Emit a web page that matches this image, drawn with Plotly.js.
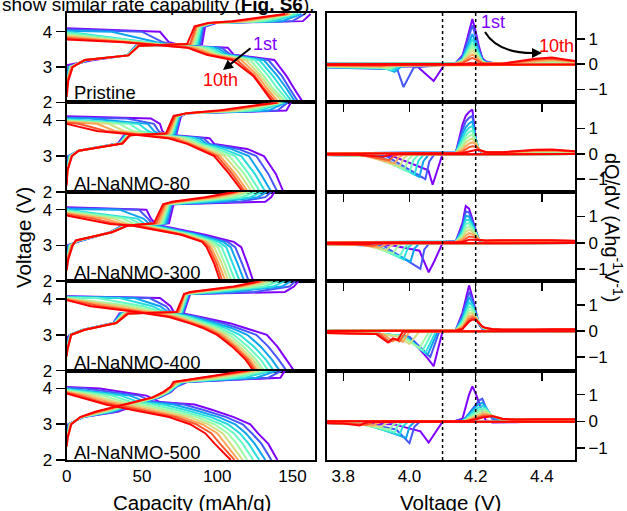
<!DOCTYPE html>
<html><head><meta charset="utf-8">
<script src="https://cdn.plot.ly/plotly-3.0.1.min.js"></script>
<style>html,body{margin:0;padding:0;background:#fff}#chart{width:627px;height:511px}</style>
</head><body><div id="chart"></div>
<script>
// ---------------- DATA ----------------
const cycleLabels = ['1st','2nd','3rd','4th','5th','6th','7th','8th','9th','10th'];
const cycleColors = ['#8000ff','#4757fb','#0ea4f0','#2adddd','#63fbc3','#9cfba4','#d4dd80','#ffa457','#ff572c','#ff0000'];
const panelNames = ['Pristine','Al-NaNMO-80','Al-NaNMO-300','Al-NaNMO-400','Al-NaNMO-500'];
const capTicks = [0, 50, 100, 150];
const voltTicks = [2, 3, 4];
const dvTicks = [3.8, 4.0, 4.2, 4.4];
const dvTickText = ['3.8', '4.0', '4.2', '4.4'];
const dqTicks = [-1, 0, 1];
const refVoltages = [4.1, 4.2];

// --- Voltage profiles: voltage grid, start voltage per cycle, capacity (mAh/g) per cycle at each grid voltage
const chgV_pristine = [2.6, 3.0, 3.2, 3.33, 3.6, 3.65, 4.15, 4.25, 4.3, 4.5];
const chgStart_pristine = [3.05, 2.75, 2.6, 2.5, 2.45, 2.4, 2.35, 2.3, 2.25, 2.15];
const chgCap_pristine = [
 [null, null, 18, 40, 46, 90, 92, 100, 157, 162],
 [null, 1, 15, 40, 46, 89, 91, 99, 150, 158],
 [null, 1.5, 14, 40, 46.5, 88, 90, 98, 143, 156],
 [0.5, 2, 13, 40, 47, 87, 89.5, 98, 137, 154],
 [0.5, 2.5, 13, 40, 47, 86, 89, 97, 131, 152],
 [0.5, 2.5, 12.5, 40.5, 47.5, 85, 88, 97, 126, 150],
 [0.5, 3, 12.5, 40.5, 47.5, 84, 87, 96, 121, 149],
 [0.5, 3, 12, 41, 48, 83, 86.5, 96, 117, 148],
 [0.5, 3.5, 12, 41, 48, 82, 86, 95, 113, 147],
 [1, 4, 12, 41, 48, 80, 85, 94, 110, 145]];
const disV_pristine = [4.0, 3.7, 3.6, 3.55, 3.35, 3.2, 2.75, 2.4, 2.0];
const disStart_pristine = [4.1, 4.07, 4.03, 4.0, 3.97, 3.93, 3.9, 3.86, 3.82, 3.78];
const disCap_pristine = [
 [62, 68, 78, 107, 111, 138, 146, 151, 157],
 [50, 64, 76, 103, 109, 134, 143, 148, 154],
 [30, 60, 74, 100, 107, 131, 140, 146, 152],
 [null, 56, 72, 97, 105, 128, 137, 143, 150],
 [null, 52, 71, 94, 103, 125, 134, 140, 148],
 [null, 48, 70, 91, 101, 122, 131, 137, 146],
 [null, 45, 69, 88, 99, 119, 129, 135, 144],
 [null, 42, 68, 85, 97, 116, 127, 133, 141],
 [null, 40, 66, 82, 95, 113, 125, 131, 139],
 [null, 38, 65, 80, 93, 110, 124, 130, 137]];

const chgV_al80 = [2.6, 3.0, 3.15, 3.35, 3.58, 3.63, 4.12, 4.2, 4.27, 4.5];
const chgStart_al80 = [2.97, 2.75, 2.6, 2.5, 2.45, 2.4, 2.35, 2.3, 2.25, 2.17];
const chgCap_al80 = [
 [null, 1, 8, 34, 38, 73, 76, 80, 146, 149],
 [null, 1, 8, 34.5, 38.5, 72.5, 75.5, 80, 140, 147],
 [null, 1.5, 8, 35, 39, 72, 75, 80, 134, 146],
 [0.5, 2, 8, 35, 39.5, 71, 74.5, 80, 128, 145],
 [0.5, 2, 8, 35.5, 40, 70, 74, 80, 122, 144],
 [0.5, 2.5, 8, 36, 40.5, 69.5, 73.5, 80, 117, 143],
 [0.5, 3, 8, 36, 41, 69, 73, 80, 112, 142],
 [0.5, 3, 8, 36.5, 41.5, 68, 72.5, 80, 108, 141],
 [0.5, 3.5, 8, 37, 42, 67, 72, 80, 104, 140.5],
 [0.5, 3.5, 8, 37, 42, 66, 71, 80, 100, 140]];
const disV_al80 = [4.05, 3.9, 3.7, 3.6, 3.5, 3.34, 3.2, 3.0, 2.5, 2.0];
const disStart_al80 = [4.11, 4.08, 4.06, 4.03, 4.01, 3.99, 3.97, 3.95, 3.93, 3.9];
const disCap_al80 = [
 [56, 62, 63.5, 66, 95, 98, 120, 131, 139, 144],
 [40, 58, 61, 64, 91, 95, 114, 126, 134, 140],
 [15, 54, 58, 62, 88, 93, 109, 121, 129, 136],
 [null, 48, 54, 60, 85, 91, 104, 116, 125, 132],
 [null, 42, 49, 58, 82, 89, 100, 112, 121, 128.5],
 [null, 35, 44, 56, 79, 87, 97, 108, 118, 125.5],
 [null, 28, 38, 53, 76, 85, 94, 105, 115, 123],
 [null, 20, 32, 50, 73, 83, 91, 102, 112, 120.5],
 [null, 8, 26, 47, 70, 81.5, 89, 100, 110, 118.5],
 [null, null, 20, 44, 67, 80, 87, 98, 108, 117]];

const chgV_al300 = [2.6, 3.0, 3.14, 3.37, 3.56, 3.62, 4.15, 4.22, 4.35, 4.5];
const chgStart_al300 = [3.0, 2.8, 2.7, 2.6, 2.55, 2.5, 2.45, 2.4, 2.35, 2.3];
const chgCap_al300 = [
 [null, null, 10, 29, 37, 68, 71, 132, 136, 138],
 [null, 1, 9.5, 29, 37.5, 67, 70, 115, 132, 136],
 [null, 1.5, 9, 29, 38, 66, 69.5, 102, 127, 133],
 [null, 2, 8.5, 29.5, 38.5, 65, 69, 92, 122, 130],
 [0.5, 2, 8, 29.5, 39, 64, 68, 85, 116, 126],
 [0.5, 2.5, 7.5, 29.5, 39.5, 63, 67.5, 80, 110, 122],
 [0.5, 3, 7, 30, 40, 62, 67, 77, 104, 119],
 [0.5, 3, 7, 30, 40.5, 61, 66, 74, 99, 116],
 [0.5, 3.5, 6.5, 30, 41, 59.5, 65, 72, 95, 114],
 [1, 4, 6, 30, 41, 58, 64, 70, 92, 112]];
const disV_al300 = [4.0, 3.75, 3.6, 3.55, 3.42, 3.3, 3.1, 2.95, 2.5, 2.0];
const disStart_al300 = [4.07, 4.05, 4.02, 4.0, 3.97, 3.95, 3.92, 3.9, 3.87, 3.84];
const disCap_al300 = [
 [53, 56, 59, 63, 78, 92, 111, 116, 120, 124],
 [48, 54, 57, 61, 76, 89, 107, 112, 116.5, 121],
 [35, 51, 55, 59, 74, 87, 104, 109, 113.5, 118],
 [null, 47, 52, 57, 72, 85, 101, 106, 110.5, 115],
 [null, 42, 49, 55, 70, 83, 98, 103, 107.5, 112],
 [null, 37, 45, 53, 68, 81, 96, 100.5, 105, 109.5],
 [null, 31, 41, 51, 66.5, 79.5, 94, 98, 103, 107.5],
 [null, 25, 37, 49, 65, 78, 92.5, 96, 101, 105.5],
 [null, 18, 33, 46.5, 63.5, 77, 91, 94.5, 99.5, 103.5],
 [null, 11, 29, 44, 62, 76, 90, 93, 98, 102]];

const chgV_al400 = [2.6, 3.0, 3.14, 3.33, 3.6, 3.64, 4.14, 4.2, 4.35, 4.5];
const chgStart_al400 = [2.9, 2.8, 2.7, 2.65, 2.6, 2.55, 2.5, 2.45, 2.42, 2.4];
const chgCap_al400 = [
 [null, 2, 11, 31, 35, 78, 82, 145, 151, 154],
 [null, 2, 11, 31, 35.5, 77.5, 81.5, 125, 148, 152],
 [null, 2.5, 11, 31.5, 36, 77, 81, 110, 143, 149],
 [null, 2.5, 11.5, 31.5, 37, 76.5, 80.5, 100, 137, 145],
 [null, 2.5, 11.5, 32, 37.5, 76, 80, 94, 131, 141],
 [0.5, 2.5, 11.5, 32, 38, 75.5, 79.5, 90, 125, 137],
 [0.5, 3, 12, 32.5, 39, 75, 79, 87, 120, 134],
 [0.5, 3, 12, 32.5, 39.5, 74.5, 78.5, 85, 116, 131],
 [0.5, 3, 12, 33, 40, 74, 78, 83.5, 113, 129.5],
 [0.5, 3, 12, 33, 41, 73, 78, 82, 111, 128]];
const disV_al400 = [4.03, 3.8, 3.65, 3.5, 3.32, 3.2, 3.0, 2.67, 2.3, 2.0];
const disStart_al400 = [4.08, 4.07, 4.06, 4.05, 4.04, 4.03, 4.01, 4.0, 3.98, 3.97];
const disCap_al400 = [
 [62, 69, 71, 89, 109, 118, 133, 140, 146, 151],
 [55, 66, 69, 87, 104, 113, 126, 134, 141, 146],
 [45, 62, 67, 84.5, 100, 109, 120, 129, 136.5, 141.5],
 [35, 57, 64.5, 82, 96, 105, 115, 124.5, 132.5, 137.5],
 [20, 51, 62, 80, 93, 101.5, 111, 120.5, 129, 134],
 [null, 45, 59, 77.5, 90, 98.5, 108, 117.5, 126, 131],
 [null, 38, 56, 75, 87.5, 96, 105.5, 115, 124, 129],
 [null, 31, 52, 73, 85.5, 94, 103.5, 113, 122, 127],
 [null, 23, 48, 70.5, 83.5, 92, 101.5, 111.5, 120.5, 125.5],
 [null, 16, 44, 68, 82, 90, 100, 110, 119, 124]];

const chgV_al500 = [2.6, 3.0, 3.2, 3.35, 3.58, 3.75, 3.9, 4.05, 4.18, 4.3, 4.5];
const chgStart_al500 = [2.8, 2.7, 2.65, 2.6, 2.55, 2.5, 2.45, 2.42, 2.4, 2.37];
const chgCap_al500 = [
 [null, 1, 11, 34, 49, 62, 69, 73, 80, 142, 145],
 [null, 1.5, 11, 32, 48, 61.5, 68.5, 73, 79, 134, 143],
 [null, 1.5, 10.5, 30, 47, 61, 68, 72.5, 78, 126, 140],
 [null, 2, 10.5, 28.5, 46, 60.5, 67.5, 72, 77, 118, 137],
 [0.5, 2, 10, 27, 45, 60, 67, 71.5, 76, 111, 134],
 [0.5, 2, 10, 25, 44, 59.5, 66.5, 71, 75, 105, 131],
 [0.5, 2.5, 9.5, 23.5, 43, 59, 66, 70.5, 74, 100, 128],
 [0.5, 2.5, 9.5, 22, 42, 58, 65, 70, 73, 95, 125],
 [0.5, 3, 9, 20.5, 41, 57.5, 64.5, 69.5, 72, 92, 122],
 [0.5, 3, 9, 19, 40, 57, 64, 69, 71, 89, 120]];
const disV_al500 = [4.0, 3.8, 3.62, 3.55, 3.4, 3.2, 3.0, 2.75, 2.45, 2.0];
const disStart_al500 = [4.04, 4.02, 4.0, 3.98, 3.96, 3.94, 3.92, 3.9, 3.88, 3.86];
const disCap_al500 = [
 [22, 53, 62, 85, 97, 111, 122, 127, 134, 140],
 [12, 48, 58, 78, 91, 106, 117, 123, 129.5, 136],
 [null, 42, 53, 71, 85, 101, 112, 119, 125, 132],
 [null, 36, 48, 64, 79, 96, 107, 115, 121, 128],
 [null, 30, 43, 57, 73, 91, 102.5, 111, 117, 124],
 [null, 24, 38, 50, 67, 86.5, 98, 107, 113, 120],
 [null, 18, 33, 43, 61, 82, 94, 103.5, 109, 117],
 [null, 13, 28, 37, 55, 77, 90, 100, 105.5, 114],
 [null, 9, 23, 31, 49, 72.5, 86, 96, 102, 111.5],
 [null, 5, 19, 26, 44, 68, 82, 92, 98.5, 109]];

// --- dQ/dV: charge branch on a shared voltage grid; discharge branch as [V, dQ/dV] pairs
const dqV = [3.75, 4.10, 4.14, 4.16, 4.17, 4.18, 4.19, 4.20, 4.21, 4.22, 4.23, 4.25, 4.28, 4.32, 4.38, 4.43, 4.50];
const dqChg_pristine = [
 [.02,.02,.05,.35,.8,1.35,1.8,1.3,.7,.25,.12,.05,.03,.03,.03,.03,.03],
 [.02,.02,.05,.3,.69,1.16,1.55,1.12,.6,.22,.1,.05,.03,.03,.03,.03,.03],
 [.02,.02,.04,.23,.53,.9,1.2,.87,.47,.17,.08,.05,.03,.03,.04,.04,.03],
 [.02,.02,.04,.19,.44,.75,1.0,.72,.39,.14,.07,.05,.03,.04,.05,.05,.04],
 [.02,.02,.03,.17,.38,.64,.85,.61,.33,.12,.06,.04,.03,.04,.06,.07,.05],
 [.01,.01,.03,.14,.31,.53,.7,.51,.27,.1,.05,.04,.03,.05,.08,.09,.06],
 [.01,.01,.03,.11,.24,.41,.55,.4,.21,.08,.04,.03,.03,.06,.11,.13,.08],
 [.01,.01,.02,.08,.18,.3,.4,.29,.16,.06,.03,.03,.03,.07,.14,.17,.1],
 [.01,.01,.02,.05,.11,.19,.25,.18,.1,.04,.03,.02,.03,.08,.18,.22,.12],
 [0,0,.01,.01,.02,.04,.05,.04,.03,.02,.02,.02,.02,.1,.22,.27,.13]];
const dqDis_pristine = [
 [[4.5,-.02],[4.105,-.03],[4.073,-.67],[4.023,-.08],[3.9,-.1],[3.75,-.1]],
 [[4.5,-.02],[4.1,-.03],[4.013,-.13],[3.982,-.91],[3.963,-.2],[3.85,-.15],[3.75,-.13]],
 [[4.5,-.02],[4.03,-.03],[3.975,-.1],[3.955,-.3],[3.93,-.17],[3.75,-.12]],
 [[4.5,-.02],[4.02,-.03],[3.97,-.09],[3.95,-.25],[3.92,-.16],[3.75,-.11]],
 [[4.5,-.02],[4.01,-.03],[3.96,-.08],[3.945,-.2],[3.91,-.14],[3.75,-.1]],
 [[4.5,-.02],[4.0,-.03],[3.955,-.07],[3.94,-.16],[3.9,-.12],[3.75,-.09]],
 [[4.5,-.02],[3.99,-.03],[3.95,-.06],[3.93,-.12],[3.9,-.1],[3.75,-.08]],
 [[4.5,-.02],[3.98,-.03],[3.94,-.05],[3.92,-.09],[3.88,-.08],[3.75,-.06]],
 [[4.5,-.01],[3.97,-.02],[3.93,-.04],[3.91,-.06],[3.87,-.05],[3.75,-.04]],
 [[4.5,-.01],[3.9,-.01],[3.75,-.02]]];

const dqChg_al80 = [
 [.02,.03,.05,1.15,1.5,1.65,1.75,.6,.12,.06,.04,.03,.03,.03,.03,.03,.03],
 [.02,.03,.05,.95,1.27,1.42,1.5,.6,.13,.06,.04,.03,.03,.03,.03,.03,.03],
 [.02,.03,.05,.78,1.05,1.2,1.28,.6,.14,.07,.05,.03,.03,.03,.04,.04,.03],
 [.02,.03,.05,.62,.88,1.03,1.1,.58,.15,.07,.05,.04,.03,.04,.05,.05,.04],
 [.02,.02,.04,.48,.72,.86,.92,.55,.16,.08,.05,.04,.04,.05,.06,.07,.05],
 [.02,.02,.04,.36,.58,.7,.76,.5,.17,.08,.06,.05,.04,.06,.08,.09,.06],
 [.01,.02,.03,.25,.44,.55,.6,.44,.18,.09,.06,.05,.05,.07,.1,.11,.07],
 [.01,.01,.03,.15,.3,.4,.45,.38,.18,.1,.07,.05,.05,.08,.12,.13,.08],
 [.01,.01,.02,.08,.17,.26,.3,.28,.18,.1,.07,.06,.06,.09,.14,.15,.09],
 [0,.01,.02,.03,.06,.1,.13,.15,.15,.1,.07,.06,.06,.1,.16,.17,.1]];
const dqDis_al80 = [
 [[4.5,-.01],[4.1,-.01],[4.07,-1.22],[4.057,-.65],[3.95,-.1],[3.75,-.05]],
 [[4.5,-.01],[4.075,-.02],[4.06,-.3],[4.048,-1.0],[3.93,-.09],[3.75,-.05]],
 [[4.5,-.01],[4.058,-.02],[4.042,-.3],[4.03,-.92],[3.91,-.09],[3.75,-.05]],
 [[4.5,-.01],[4.043,-.02],[4.027,-.28],[4.015,-.82],[3.9,-.08],[3.75,-.05]],
 [[4.5,-.01],[4.028,-.02],[4.012,-.25],[4.0,-.72],[3.89,-.08],[3.75,-.05]],
 [[4.5,-.01],[4.013,-.02],[3.997,-.22],[3.985,-.6],[3.88,-.07],[3.75,-.05]],
 [[4.5,-.01],[3.998,-.02],[3.982,-.18],[3.97,-.5],[3.87,-.07],[3.75,-.05]],
 [[4.5,-.01],[3.983,-.02],[3.967,-.15],[3.955,-.38],[3.86,-.06],[3.75,-.05]],
 [[4.5,-.01],[3.968,-.02],[3.952,-.1],[3.94,-.25],[3.85,-.05],[3.75,-.04]],
 [[4.5,-.01],[3.95,-.02],[3.935,-.06],[3.92,-.12],[3.84,-.04],[3.75,-.03]]];

const dqChg_al300 = [
 [.02,.03,.06,.75,1.4,1.3,.9,.5,.1,.06,.05,.03,.02,.02,.02,.02,.02],
 [.02,.03,.06,.62,1.2,1.15,.82,.47,.1,.06,.05,.03,.03,.03,.03,.03,.02],
 [.02,.03,.05,.52,1.03,1.0,.74,.44,.11,.06,.05,.04,.03,.03,.03,.03,.03],
 [.02,.03,.05,.42,.86,.88,.66,.41,.12,.07,.05,.04,.04,.04,.04,.04,.03],
 [.02,.02,.04,.34,.7,.76,.58,.38,.12,.07,.06,.05,.05,.05,.05,.05,.04],
 [.02,.02,.04,.26,.55,.63,.5,.34,.13,.08,.06,.06,.06,.06,.06,.06,.05],
 [.01,.02,.03,.19,.41,.5,.42,.3,.13,.08,.07,.07,.07,.07,.07,.07,.05],
 [.01,.01,.03,.13,.28,.37,.33,.25,.13,.09,.08,.08,.08,.08,.08,.08,.06],
 [.01,.01,.02,.07,.16,.24,.23,.19,.12,.09,.08,.09,.09,.09,.1,.09,.07],
 [0,.01,.02,.03,.07,.12,.12,.12,.11,.1,.09,.1,.1,.1,.11,.1,.08]];
const dqDis_al300 = [
 [[4.5,-.01],[4.1,-.01],[4.075,-.7],[4.058,-1.12],[4.03,-.3],[3.95,-.1],[3.75,-.06]],
 [[4.5,-.01],[4.06,-.02],[4.045,-.25],[4.033,-.99],[3.92,-.1],[3.75,-.06]],
 [[4.5,-.01],[4.03,-.02],[4.015,-.22],[4.003,-.72],[3.9,-.1],[3.75,-.06]],
 [[4.5,-.01],[4.01,-.02],[3.995,-.2],[3.982,-.63],[3.89,-.09],[3.75,-.06]],
 [[4.5,-.01],[4.0,-.02],[3.985,-.18],[3.97,-.53],[3.88,-.09],[3.75,-.06]],
 [[4.5,-.01],[3.98,-.02],[3.965,-.14],[3.95,-.4],[3.87,-.08],[3.75,-.06]],
 [[4.5,-.01],[3.96,-.02],[3.945,-.1],[3.93,-.28],[3.86,-.08],[3.75,-.05]],
 [[4.5,-.01],[3.94,-.02],[3.925,-.08],[3.91,-.18],[3.85,-.07],[3.75,-.05]],
 [[4.5,-.01],[3.92,-.02],[3.905,-.06],[3.89,-.12],[3.84,-.06],[3.75,-.05]],
 [[4.5,-.01],[3.9,-.02],[3.87,-.05],[3.75,-.04]]];

const dqChg_al400 = [
 [.02,.02,.04,.7,1.2,1.75,1.3,.75,.25,.08,.05,.02,.01,.01,.01,.01,.01],
 [.02,.02,.04,.6,1.02,1.5,1.2,.72,.27,.1,.06,.03,.02,.02,.02,.02,.02],
 [.02,.02,.04,.5,.88,1.3,1.08,.68,.28,.11,.07,.03,.02,.02,.03,.03,.03],
 [.02,.02,.04,.42,.74,1.1,.98,.64,.29,.12,.08,.04,.03,.03,.03,.04,.04],
 [.02,.02,.03,.34,.62,.94,.87,.6,.3,.13,.08,.04,.03,.03,.04,.04,.04],
 [.01,.02,.03,.27,.52,.8,.78,.57,.31,.14,.09,.05,.04,.04,.04,.05,.05],
 [.01,.02,.03,.21,.42,.67,.69,.53,.31,.15,.1,.05,.04,.04,.05,.05,.05],
 [.01,.01,.03,.16,.33,.55,.6,.5,.31,.16,.11,.06,.05,.04,.05,.06,.06],
 [.01,.01,.02,.11,.26,.45,.52,.47,.31,.17,.11,.07,.05,.05,.06,.06,.06],
 [0,.01,.02,.07,.2,.36,.44,.42,.3,.17,.12,.08,.06,.05,.06,.07,.07]];
const dqDis_al400 = [
 [[4.5,-.01],[4.1,-.01],[4.073,-1.35],[4.055,-1.05],[4.0,-.25],[3.9,-.1],[3.75,-.07]],
 [[4.5,-.01],[4.09,-.02],[4.063,-1.0],[4.0,-.22],[3.9,-.1],[3.75,-.07]],
 [[4.5,-.01],[4.085,-.02],[4.055,-.92],[3.99,-.2],[3.9,-.1],[3.75,-.07]],
 [[4.5,-.01],[4.08,-.02],[4.048,-.85],[3.985,-.2],[3.9,-.1],[3.75,-.07]],
 [[4.5,-.01],[4.07,-.02],[4.04,-.75],[3.98,-.2],[3.9,-.1],[3.75,-.07]],
 [[4.5,-.01],[4.06,-.02],[4.03,-.65],[3.975,-.2],[3.9,-.1],[3.75,-.07]],
 [[4.5,-.01],[4.03,-.02],[4.0,-.5],[3.96,-.2],[3.9,-.1],[3.75,-.07]],
 [[4.5,-.01],[4.0,-.02],[3.98,-.42],[3.965,-.3],[3.95,-.4],[3.92,-.12],[3.75,-.08]],
 [[4.5,-.01],[3.99,-.02],[3.97,-.4],[3.955,-.3],[3.94,-.42],[3.91,-.12],[3.75,-.08]],
 [[4.5,-.01],[3.98,-.02],[3.965,-.35],[3.95,-.28],[3.935,-.44],[3.9,-.12],[3.75,-.08]]];

const dqChg_al500 = [
 [.02,.02,.03,.1,.55,1.0,1.31,1.05,.7,.4,.05,-.04,-.04,-.03,0,.02,.03],
 [.02,.02,.03,.05,.15,.3,.45,.62,.78,.85,.55,.1,.04,.03,.03,.03,.03],
 [.02,.02,.03,.03,.12,.28,.42,.55,.65,.7,.55,.15,.05,.04,.04,.04,.04],
 [.02,.02,.03,.02,.09,.22,.34,.45,.53,.58,.5,.18,.06,.04,.05,.05,.05],
 [.02,.02,.03,.02,.07,.17,.27,.37,.44,.49,.46,.2,.07,.05,.05,.06,.05],
 [.01,.01,.02,.01,.05,.13,.21,.3,.36,.41,.41,.22,.08,.05,.06,.06,.06],
 [.01,.01,.02,.01,.04,.1,.16,.23,.29,.33,.35,.22,.09,.06,.06,.07,.06],
 [.01,.01,.02,.01,.03,.07,.12,.17,.22,.26,.28,.21,.1,.06,.07,.07,.07],
 [.01,.01,.02,0,.02,.05,.08,.12,.16,.2,.22,.2,.1,.07,.07,.08,.07],
 [.01,.01,.02,0,.01,.03,.05,.08,.11,.15,.17,.19,.1,.07,.08,.08,.08]];
const dqDis_al500 = [
 [[4.5,-.01],[4.1,-.01],[4.058,-.79],[4.033,-.37],[3.95,-.1],[3.75,-.06]],
 [[4.5,-.01],[4.03,-.02],[4.015,-.2],[4.0,-.81],[3.96,-.3],[3.88,-.1],[3.75,-.06]],
 [[4.5,-.01],[4.015,-.02],[4.0,-.2],[3.99,-.62],[3.87,-.1],[3.75,-.06]],
 [[4.5,-.01],[3.995,-.02],[3.98,-.18],[3.97,-.5],[3.86,-.1],[3.75,-.06]],
 [[4.5,-.01],[3.98,-.02],[3.965,-.15],[3.955,-.4],[3.85,-.09],[3.75,-.06]],
 [[4.5,-.01],[3.965,-.02],[3.95,-.12],[3.94,-.3],[3.84,-.09],[3.75,-.06]],
 [[4.5,-.01],[3.94,-.02],[3.925,-.1],[3.915,-.2],[3.83,-.08],[3.75,-.06]],
 [[4.5,-.01],[3.915,-.02],[3.9,-.08],[3.89,-.15],[3.82,-.08],[3.75,-.06]],
 [[4.5,-.01],[3.895,-.02],[3.88,-.07],[3.87,-.12],[3.8,-.07],[3.75,-.06]],
 [[4.5,-.01],[3.875,-.02],[3.86,-.08],[3.85,-.15],[3.8,-.08],[3.75,-.07]]];

// ---------------- BUILD ----------------
const panels = [
 {cV:chgV_pristine,cS:chgStart_pristine,cC:chgCap_pristine,dV:disV_pristine,dS:disStart_pristine,dC:disCap_pristine,qc:dqChg_pristine,qd:dqDis_pristine},
 {cV:chgV_al80,cS:chgStart_al80,cC:chgCap_al80,dV:disV_al80,dS:disStart_al80,dC:disCap_al80,qc:dqChg_al80,qd:dqDis_al80},
 {cV:chgV_al300,cS:chgStart_al300,cC:chgCap_al300,dV:disV_al300,dS:disStart_al300,dC:disCap_al300,qc:dqChg_al300,qd:dqDis_al300},
 {cV:chgV_al400,cS:chgStart_al400,cC:chgCap_al400,dV:disV_al400,dS:disStart_al400,dC:disCap_al400,qc:dqChg_al400,qd:dqDis_al400},
 {cV:chgV_al500,cS:chgStart_al500,cC:chgCap_al500,dV:disV_al500,dS:disStart_al500,dC:disCap_al500,qc:dqChg_al500,qd:dqDis_al500}];

function profile(grid, start, caps){
  const x=[0], y=[start];
  grid.forEach((v,i)=>{ if(caps[i]!==null){ x.push(caps[i]); y.push(v);} });
  return {x,y};
}
const W=627, H=511;
const px=v=>v/W, py=v=>1-v/H;
const LW=2;
const traces=[];
panels.forEach((p,k)=>{
  const sa = k===0?'':String(k+1), sb=String(k+6);
  for(let c=0;c<10;c++){
    const col=cycleColors[c];
    const d=profile(p.dV,p.dS[c],p.dC[c]);
    traces.push({type:'scatter',mode:'lines',x:d.x,y:d.y,xaxis:'x'+sa,yaxis:'y'+sa,line:{color:col,width:LW},name:cycleLabels[c],hoverinfo:'skip'});
    const ch=profile(p.cV,p.cS[c],p.cC[c]);
    traces.push({type:'scatter',mode:'lines',x:ch.x,y:ch.y,xaxis:'x'+sa,yaxis:'y'+sa,line:{color:col,width:LW},name:cycleLabels[c],hoverinfo:'skip'});
  }
  for(let c=0;c<10;c++){
    const col=cycleColors[c];
    traces.push({type:'scatter',mode:'lines',x:p.qd[c].map(q=>q[0]),y:p.qd[c].map(q=>q[1]),xaxis:'x'+sb,yaxis:'y'+sb,line:{color:col,width:LW},name:cycleLabels[c],hoverinfo:'skip'});
    traces.push({type:'scatter',mode:'lines',x:dqV,y:p.qc[c],xaxis:'x'+sb,yaxis:'y'+sb,line:{color:col,width:LW},name:cycleLabels[c],hoverinfo:'skip'});
  }
});

const FONT='"Liberation Sans", Arial, sans-serif';
const rowTop=[13,102.4,191.8,281.2,370.6], rowH=89.4;
const leftDom=[px(66.7),px(315)], rightDom=[px(326.7),px(575)];
const leftYRange=[[2,4.53],[2,4.5],[2,4.5],[2,4.5],[2,4.5]];
const rightYRange=[[-1.52,2.04],[-1.5,2.03],[-1.46,1.94],[-1.52,1.91],[-1.44,1.9]];
const base={showline:true,mirror:true,linecolor:'#000',linewidth:2,showgrid:false,zeroline:false,ticks:'',tickcolor:'#000',tickwidth:1.5,tickfont:{size:17,color:'#000',family:FONT},fixedrange:true};
const layout={width:W,height:H,margin:{l:0,r:0,t:0,b:0},paper_bgcolor:'#fff',plot_bgcolor:'rgba(0,0,0,0)',showlegend:false,font:{family:FONT,color:'#000'}};
for(let k=0;k<5;k++){
  const dom=[py(rowTop[k]+rowH),py(rowTop[k])];
  const sa=k===0?'':String(k+1), sb=String(k+6);
  layout['xaxis'+sa]=Object.assign({},base,{domain:leftDom,anchor:'y'+sa,range:[0,165],tickvals:capTicks,showticklabels:k===4});
  layout['yaxis'+sa]=Object.assign({},base,{domain:dom,anchor:'x'+sa,range:leftYRange[k],tickvals:voltTicks,ticks:'outside',ticklen:9});
  layout['xaxis'+sb]=Object.assign({},base,{domain:rightDom,anchor:'y'+sb,range:[3.75,4.5],tickvals:dvTicks,ticktext:dvTickText,ticks:k<4?'outside':'',ticklen:8,showticklabels:k===4});
  layout['yaxis'+sb]=Object.assign({},base,{domain:dom,anchor:'x'+sb,side:'right',range:rightYRange[k],tickvals:dqTicks,ticks:'outside',ticklen:8});
}
layout.shapes = refVoltages.map(v=>({type:'line',xref:'x6',yref:'paper',x0:v,x1:v,y0:py(460),y1:py(13),line:{color:'#000',width:1.5,dash:'dot'}}));
layout.shapes.push({type:'path',xref:'paper',yref:'paper',path:`M ${px(485)},${py(32)} Q ${px(498)},${py(54)} ${px(536)},${py(53)}`,line:{color:'#000',width:2}});

function note(text,xPx,yPx,opts){
  return Object.assign({text:text,xref:'paper',yref:'paper',x:px(xPx),y:py(yPx),xanchor:'center',yanchor:'middle',showarrow:false},opts||{});
}
const labelY=[93,183,272,362,452];
const ann=[];
panelNames.forEach((n,k)=>ann.push(note(n,72,labelY[k],{xanchor:'left',font:{size:18.5,family:FONT,color:'#000'}})));
ann.push(note(cycleLabels[0],265,44,{font:{size:18,family:FONT,color:cycleColors[0]}}));
ann.push(note(cycleLabels[9],220,80,{font:{size:18,family:FONT,color:cycleColors[9]}}));
ann.push(note('',223,70,{ax:29,ay:-23,showarrow:true,arrowhead:2,arrowsize:1,arrowwidth:2,arrowcolor:'#000'}));
ann.push(note(cycleLabels[0],493,22,{font:{size:18,family:FONT,color:cycleColors[0]}}));
ann.push(note(cycleLabels[9],556,46,{font:{size:18,family:FONT,color:cycleColors[9]}}));
ann.push(note('',542,53,{ax:-7,ay:0,showarrow:true,arrowhead:2,arrowsize:1,arrowwidth:2,arrowcolor:'#000'}));
ann.push(note('Voltage (V)',23,238,{textangle:-90,font:{size:20.5,family:FONT,color:'#000'}}));
ann.push(note('Capacity (mAh/g)',192,502,{font:{size:20.5,family:FONT,color:'#000'}}));
ann.push(note('Voltage (V)',450,502,{font:{size:20.5,family:FONT,color:'#000'}}));
ann.push(note('dQ/dV (Ahg<sup>-1</sup>V<sup>-1</sup>)',614,227,{textangle:90,font:{size:20,family:FONT,color:'#000'}}));
ann.push(note('show similar rate capability (<b>Fig. S6</b>).',317,4,{xanchor:'right',font:{size:19,family:FONT,color:'#000'}}));
layout.annotations=ann;

Plotly.newPlot('chart',traces,layout,{staticPlot:true,displayModeBar:false});
</script></body></html>
